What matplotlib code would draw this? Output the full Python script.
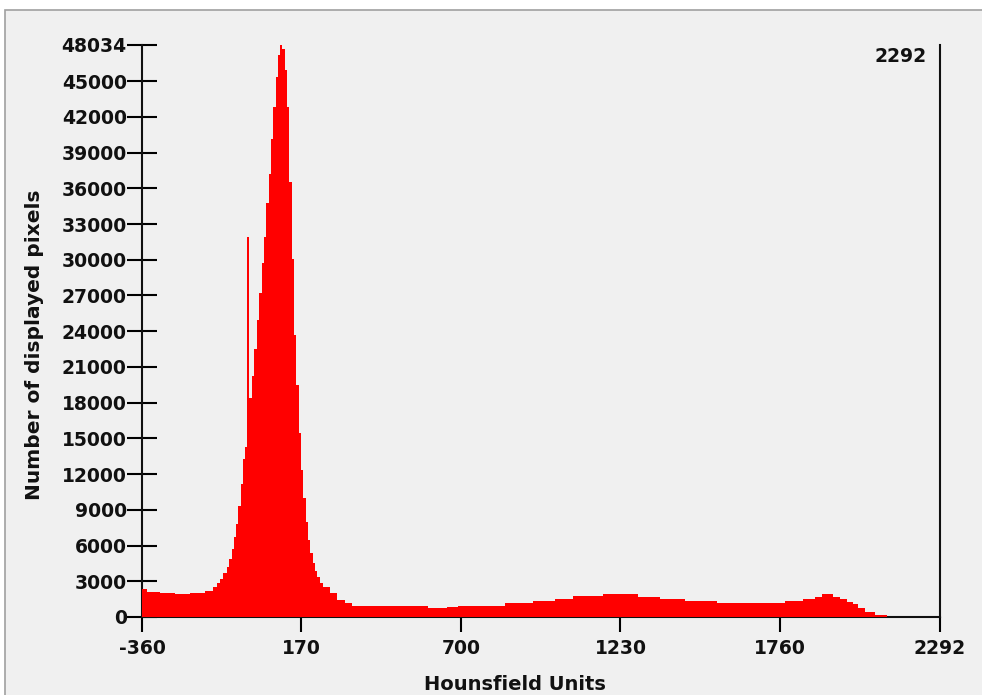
import numpy as np
import matplotlib.pyplot as plt
from matplotlib.patches import Rectangle

# histogram bins (Hounsfield units) and counts
hu_edges = [-360, -345, -300, -250, -200, -150, -123, -112, -101, -90, -79, -70,
            -62, -54, -48, -40, -32, -24, -18, -10, -3, 6, 13, 21, 30, 38, 45,
            53, 61, 69, 76, 84, 92, 99, 106, 114, 122, 130, 138, 145, 153, 161,
            168, 176, 184, 192, 199, 207, 215, 223, 232, 243, 265, 287, 315,
            337, 508, 590, 653, 690, 846, 940, 1012, 1073, 1173, 1289, 1361,
            1445, 1550, 1777, 1838, 1877, 1899, 1937, 1960, 1982, 2004, 2021,
            2043, 2076, 2115]
counts = [2330, 2100, 2050, 1950, 2000, 2150, 2500, 2850, 3200, 3700, 4200,
          4850, 5700, 6700, 7800, 9300, 11200, 13300, 14300, 31900, 18370,
          20240, 22480, 24940, 27180, 29700, 31890, 34790, 37170, 40110, 42800,
          45370, 47170, 48034, 47700, 45940, 42800, 36560, 30090, 23680, 19480,
          15430, 12340, 9970, 8010, 6470, 5400, 4510, 3890, 3380, 2880, 2490,
          1990, 1430, 1150, 950, 920, 756, 865, 950, 1150, 1340, 1540, 1760,
          1930, 1710, 1510, 1320, 1150, 1340, 1540, 1710, 1930, 1710, 1510,
          1290, 1070, 756, 420, 195]

x_ticks = [-360, 170, 700, 1230, 1760, 2292]
y_ticks = [0, 3000, 6000, 9000, 12000, 15000, 18000, 21000, 24000, 27000,
           30000, 33000, 36000, 39000, 42000, 45000, 48034]

W, H = 982, 695
fig = plt.figure(figsize=(W / 100, H / 100), dpi=100)
fig.patch.set_facecolor('white')
fig.patches.append(Rectangle((5 / W, -0.01), 1.0, 1 - 10 / H + 0.01,
                             transform=fig.transFigure, facecolor='#f0f0f0',
                             edgecolor='#a0a0a0', linewidth=1.2, zorder=-5))

ax = fig.add_axes([142 / W, 1 - 617 / H, (940 - 142) / W, (617 - 45) / H])
ax.set_facecolor('none')
ax.stairs(counts, hu_edges, fill=True, color='red', zorder=3)

ax.set_xlim(-360, 2292)
ax.set_ylim(0, 48034)
ax.spines['top'].set_visible(False)
for s in ['left', 'right', 'bottom']:
    ax.spines[s].set_linewidth(1.5)
    ax.spines[s].set_color('#101010')

fnt = dict(family='DejaVu Sans', weight='bold', size=13.5, color='#111111')
ax.set_xticks(x_ticks)
ax.set_xticklabels([str(v) for v in x_ticks], **fnt)
ax.set_yticks(y_ticks)
ax.set_yticklabels([str(v) for v in y_ticks], **fnt)
ax.tick_params(axis='y', direction='inout', length=22, width=1.5, pad=0)
ax.tick_params(axis='x', direction='out', length=11, width=1.5, pad=5)

fig.text(927 / W, 1 - 57 / H, '2292', ha='right', va='center', **fnt)
fig.text(515 / W, 1 - 685 / H, 'Hounsfield Units', ha='center', va='center',
         **{**fnt, 'size': 14})
fig.text(35 / W, 1 - 345 / H, 'Number of displayed pixels', rotation=90,
         ha='center', va='center', **{**fnt, 'size': 14.5})

fig.savefig('out.png', dpi=100)
